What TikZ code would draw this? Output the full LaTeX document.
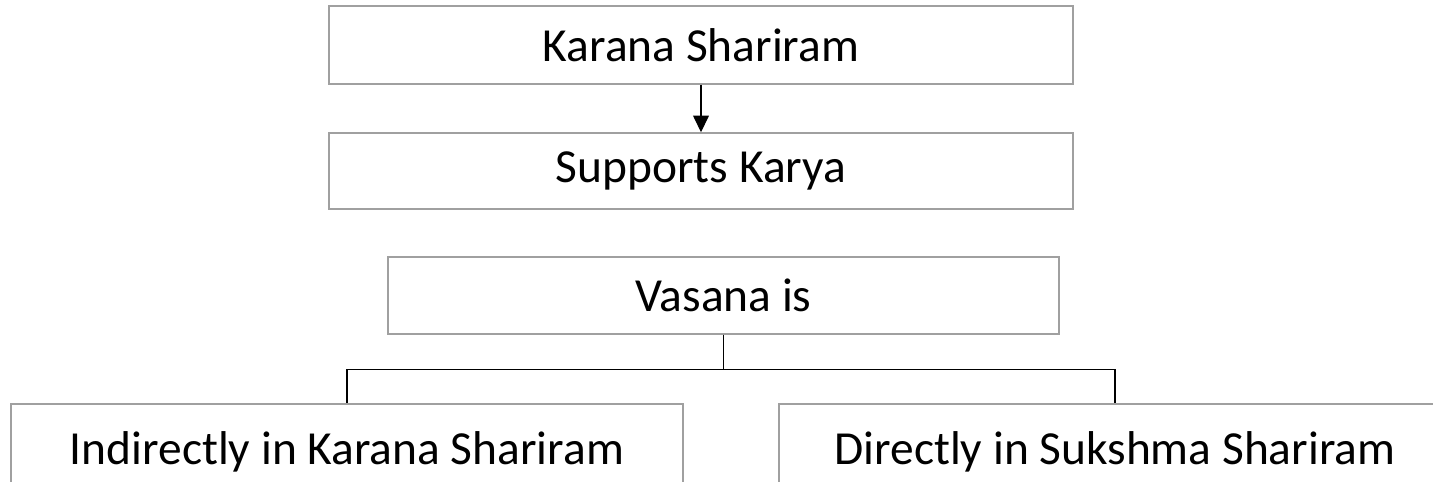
\documentclass[tikz,border=0pt]{standalone}
\usepackage{fontspec}
\setmainfont{Carlito}
\usetikzlibrary{arrows.meta,positioning}
\definecolor{frame}{RGB}{160,160,160}
\definecolor{ink}{RGB}{0,0,0}
\tikzset{
  >={Triangle[length=9.5pt,width=9pt]},
  box/.style={draw=frame,line width=0.85pt,fill=white,inner sep=0pt,
    minimum width=#1,align=center,font=\fontsize{27}{32}\selectfont,text=ink},
  box/.default=14.88cm,
  link/.style={draw=ink,line width=0.7pt},
}
\begin{document}
\begin{tikzpicture}[x=0.02cm,y=0.02cm]
  \clip (0,0) rectangle (1433,-481);
  % upper pair
  \node[box,minimum height=1.56cm] (karana) at (701,-45) {Karana Shariram};
  \node[box,minimum height=1.52cm] (karya) at (701,-171) {Supports Karya};
  \draw[link,->] (karana.south) -- (karya.north);
  % vasana tree
  \node[box=13.42cm,minimum height=1.54cm] (vasana) at (723.5,-295.5) {Vasana is};
  \node[box=13.44cm,minimum height=1.92cm] (indirect) at (347,-452) {Indirectly in Karana Shariram};
  \node[box=13.44cm,minimum height=1.92cm] (direct) at (1115,-452) {Directly in Sukshma Shariram};
  \draw[link] (vasana.south) -- ++(0,-35) -| (indirect.north);
  \draw[link] (vasana.south) -- ++(0,-35) -| (direct.north);
\end{tikzpicture}
\end{document}
